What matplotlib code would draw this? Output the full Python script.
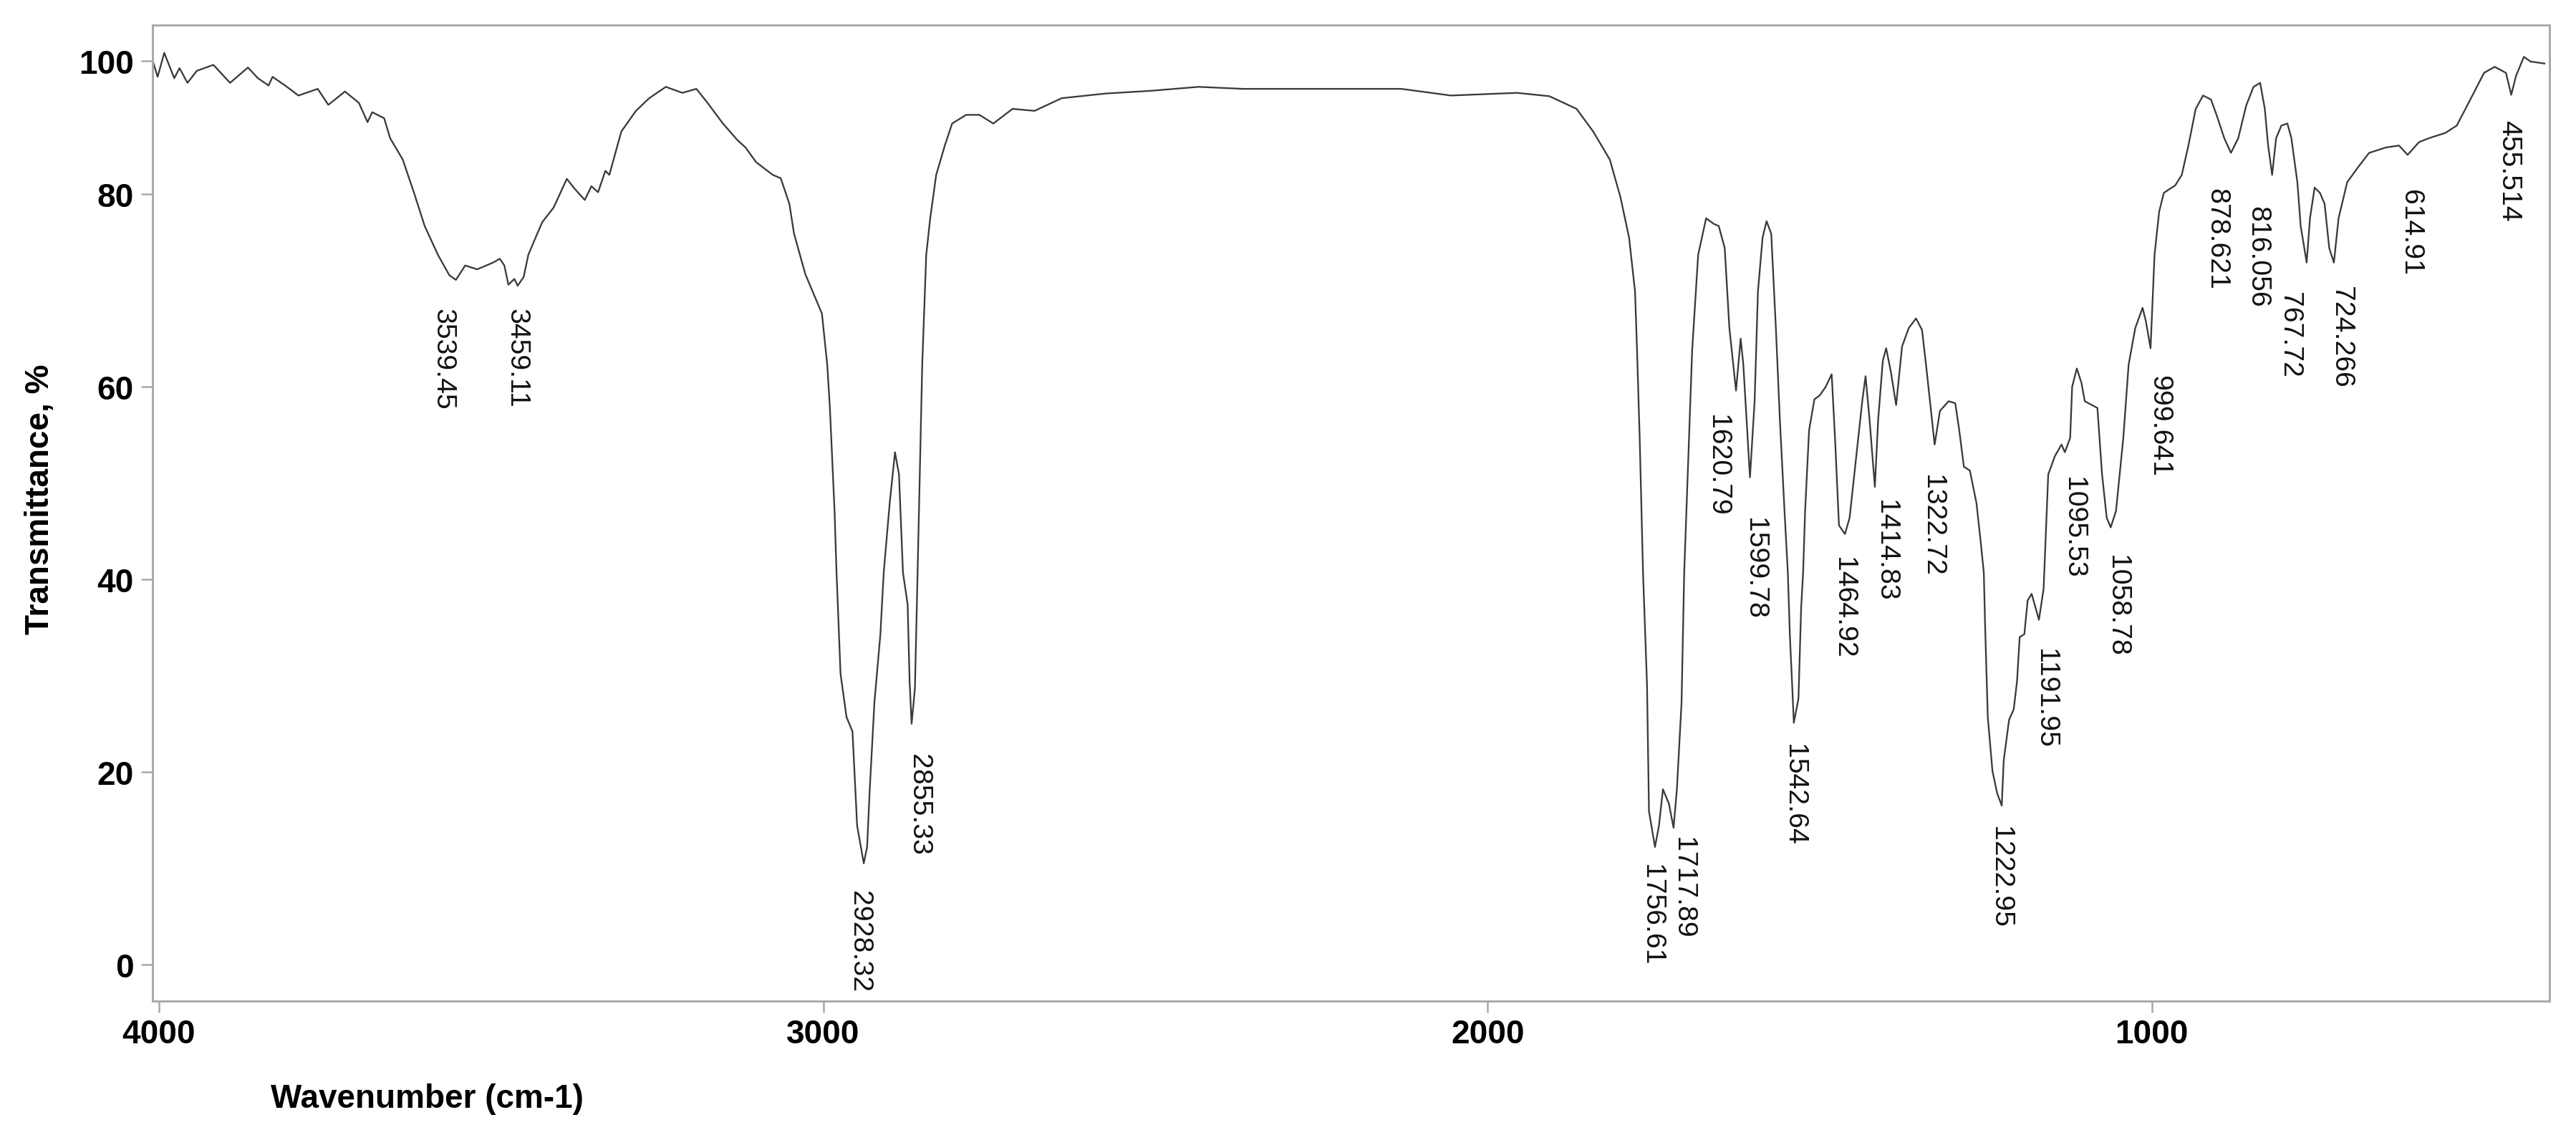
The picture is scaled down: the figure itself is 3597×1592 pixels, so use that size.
import numpy as np
import matplotlib
matplotlib.use("Agg")
import matplotlib.pyplot as plt
from matplotlib import font_manager

# FTIR spectrum
wavenumber = [4009, 4002, 3992, 3977, 3969, 3957, 3943, 3918, 3893, 3866,
              3851, 3835, 3829, 3810, 3790, 3761, 3745, 3720, 3699, 3686,
              3679, 3661, 3652, 3633, 3616, 3600, 3580, 3563, 3553, 3539,
              3521, 3497, 3487, 3480, 3474, 3465, 3460, 3451, 3444, 3433,
              3423, 3406, 3386, 3374, 3359, 3349, 3339, 3328, 3322, 3304,
              3282, 3262, 3237, 3212, 3191, 3175, 3151, 3130, 3117, 3101,
              3076, 3064, 3051, 3044, 3027, 3002, 2994, 2990, 2983, 2980,
              2974, 2965, 2956, 2949, 2939, 2934, 2930, 2923, 2914, 2909,
              2900, 2892, 2886, 2880, 2873, 2870, 2867, 2862, 2858, 2851,
              2845, 2839, 2830, 2817, 2806, 2785, 2765, 2744, 2715, 2682,
              2641, 2575, 2508, 2435, 2368, 2130, 2055, 1956, 1907, 1866,
              1841, 1816, 1800, 1787, 1778, 1775, 1771, 1766, 1760, 1757,
              1748, 1742, 1736, 1727, 1720, 1715, 1708, 1704, 1692, 1683,
              1671, 1659, 1652, 1643, 1636, 1626, 1619, 1615, 1605, 1598,
              1593, 1586, 1580, 1573, 1566, 1560, 1553, 1548, 1545, 1541,
              1539, 1532, 1528, 1525, 1522, 1516, 1508, 1500, 1491, 1482,
              1477, 1471, 1462, 1455, 1442, 1436, 1431, 1425, 1417, 1412,
              1405, 1400, 1393, 1385, 1376, 1366, 1355, 1346, 1340, 1327,
              1319, 1306, 1296, 1290, 1283, 1274, 1264, 1258, 1253, 1251,
              1247, 1240, 1233, 1226, 1223, 1215, 1208, 1203, 1199, 1192,
              1187, 1181, 1170, 1163, 1156, 1146, 1136, 1131, 1123, 1120,
              1113, 1106, 1101, 1082, 1075, 1068, 1062, 1054, 1043, 1035,
              1025, 1014, 1009, 1002, 996, 989, 982, 973, 965, 955,
              945, 934, 923, 911, 902, 891, 881, 870, 858, 847,
              837, 830, 825, 819, 813, 805, 796, 790, 781, 776,
              767, 762, 755, 747, 740, 733, 726, 719, 706, 690,
              673, 648, 628, 615, 598, 583, 558, 541, 517, 500,
              484, 467, 459, 452, 440, 430, 409]

transmittance = [99.9, 97.6, 101.2, 97.4, 98.9, 96.7, 98.5, 99.4, 96.7, 99.0,
                 97.4, 96.3, 97.6, 96.3, 94.8, 95.8, 93.4, 95.4, 93.7, 90.8,
                 92.3, 91.4, 88.4, 85.2, 80.2, 76.7, 73.7, 71.6, 71.1, 72.6,
                 72.2, 72.9, 73.3, 72.6, 70.6, 71.2, 70.5, 71.4, 73.7, 75.5,
                 77.1, 78.6, 82.3, 80.8, 79.4, 81.2, 80.3, 83.5, 82.9, 89.4,
                 92.5, 94.4, 96.1, 95.2, 95.8, 93.8, 90.6, 88.2, 87.0, 84.8,
                 82.9, 82.4, 79.0, 75.9, 71.7, 67.6, 62.3, 57.8, 47.1, 40.7,
                 30.2, 25.7, 24.2, 14.4, 10.5, 12.2, 18.2, 27.2, 34.3, 40.7,
                 47.9, 53.2, 50.9, 40.7, 37.4, 29.4, 25.0, 28.7, 40.7, 62.3,
                 73.7, 77.5, 82.9, 87.3, 90.6, 91.9, 91.9, 90.6, 92.8, 92.5,
                 94.4, 95.1, 95.5, 96.1, 95.8, 95.8, 94.8, 95.2, 94.7, 92.8,
                 89.4, 85.2, 79.7, 75.5, 69.9, 63.8, 54.7, 40.7, 29.1, 15.9,
                 12.2, 14.4, 18.2, 16.7, 14.2, 18.2, 27.2, 40.7, 63.8, 73.7,
                 77.5, 76.9, 76.7, 74.4, 66.1, 59.6, 65.0, 62.3, 50.6, 58.5,
                 69.9, 75.5, 77.2, 75.9, 66.1, 56.6, 47.1, 40.7, 34.3, 28.3,
                 25.1, 27.6, 37.0, 40.7, 47.1, 55.5, 58.7, 59.1, 60.0, 61.3,
                 54.7, 45.6, 44.7, 46.4, 54.7, 58.5, 61.1, 56.6, 49.6, 56.6,
                 62.7, 64.0, 61.6, 58.1, 64.2, 66.1, 67.1, 65.9, 62.3, 54.0,
                 57.5, 58.5, 58.3, 55.5, 51.7, 51.3, 47.9, 44.1, 40.7, 35.1,
                 25.7, 20.1, 17.8, 16.5, 21.2, 25.4, 26.5, 29.4, 34.0, 34.3,
                 37.8, 38.5, 35.8, 39.0, 50.9, 52.8, 54.0, 53.2, 54.7, 60.0,
                 61.9, 60.4, 58.5, 57.8, 50.9, 46.4, 45.4, 47.1, 54.7, 62.3,
                 66.1, 68.2, 66.8, 64.0, 73.7, 78.2, 80.2, 80.8, 81.3, 82.9,
                 87.3, 92.8, 94.8, 94.2, 91.7, 88.4, 86.2, 88.4, 93.3, 96.1,
                 96.7, 92.8, 87.3, 82.9, 88.4, 90.3, 90.6, 88.4, 81.8, 76.7,
                 72.9, 77.5, 81.0, 80.2, 79.0, 74.4, 72.9, 77.5, 81.8, 84.0,
                 86.2, 87.0, 87.3, 85.9, 87.8, 88.4, 89.2, 90.3, 94.9, 98.2,
                 99.1, 98.2, 94.9, 97.7, 100.6, 99.9, 99.6]

# peak annotations: text, where the label sits (wavenumber, transmittance)
peak_text = ["3539.45", "3459.11", "2928.32", "2855.33", "1756.61", "1717.89",
             "1620.79", "1599.78", "1542.64", "1464.92", "1414.83", "1322.72",
             "1222.95", "1191.95", "1095.53", "1058.78", "999.641", "878.621",
             "816.056", "767.72", "724.266", "614.91", "455.514"]
peak_x = [3573, 3461, 2946, 2856, 1753, 1706,
          1654, 1598, 1539, 1464, 1401, 1331,
          1228, 1160, 1118, 1053, 989, 903,
          841, 793, 715, 611, 463]
peak_y = [68.2, 68.2, 7.7, 21.9, 10.5, 13.3,
          57.2, 46.5, 23.0, 42.4, 48.3, 50.9,
          14.4, 32.9, 50.7, 42.6, 61.3, 81.0,
          78.8, 69.9, 70.5, 80.8, 91.2]

y_ticks = [0, 20, 40, 60, 80, 100]
x_ticks = [4000, 3000, 2000, 1000]


def main():
    names = {f.name for f in font_manager.fontManager.ttflist}
    if 'Liberation Sans Narrow' in names:
        label_font, label_size = 'Liberation Sans Narrow', 11
    else:
        label_font, label_size = 'Liberation Sans', 9.4
    plt.rcParams['font.family'] = ['Liberation Sans', 'DejaVu Sans']

    fig = plt.figure(figsize=(3597 / 300, 1593 / 300), dpi=300)
    ax = fig.add_axes([0.0592, 0.1218, 0.9305, 0.8558])

    # the band 80-100 is squeezed on the original axis
    k = 0.6926

    def fwd(y):
        y = np.asarray(y, dtype=float)
        return np.where(y <= 80, y, 80 + (y - 80) * k)

    def inv(u):
        u = np.asarray(u, dtype=float)
        return np.where(u <= 80, u, 80 + (u - 80) / k)

    ax.set_yscale('function', functions=(fwd, inv))

    ax.plot(wavenumber, transmittance, color='#3a3a3a', linewidth=0.55)

    for s, x, y in zip(peak_text, peak_x, peak_y):
        ax.text(x, y, s, rotation=270, ha='center', va='top',
                fontsize=label_size, family=[label_font, 'DejaVu Sans'],
                color='#111111')

    ax.set_xlim(4009.7, 401.5)
    ax.set_ylim(-3.8, 105.4)
    ax.set_xticks(x_ticks)
    ax.set_yticks(y_ticks)
    ax.set_xticklabels([str(t) for t in x_ticks], fontweight='bold')
    ax.set_yticklabels([str(t) for t in y_ticks], fontweight='bold')

    for sp in ax.spines.values():
        sp.set_color('#a8a8a8')
        sp.set_linewidth(0.7)
    ax.tick_params(direction='out', length=3.8, width=0.6, color='#a8a8a8',
                   labelsize=11, labelcolor='black')
    ax.tick_params(axis='x', pad=2)
    ax.tick_params(axis='y', pad=2.5)

    ax.set_xlabel('Wavenumber (cm-1)', fontsize=11, fontweight='bold')
    ax.xaxis.set_label_coords(0.1146, -0.084)
    ax.set_ylabel('Transmittance, %', fontsize=11, fontweight='bold')
    ax.yaxis.set_label_coords(-0.0403, 0.515)

    fig.savefig('out.png', dpi=300)


if __name__ == '__main__':
    main()
